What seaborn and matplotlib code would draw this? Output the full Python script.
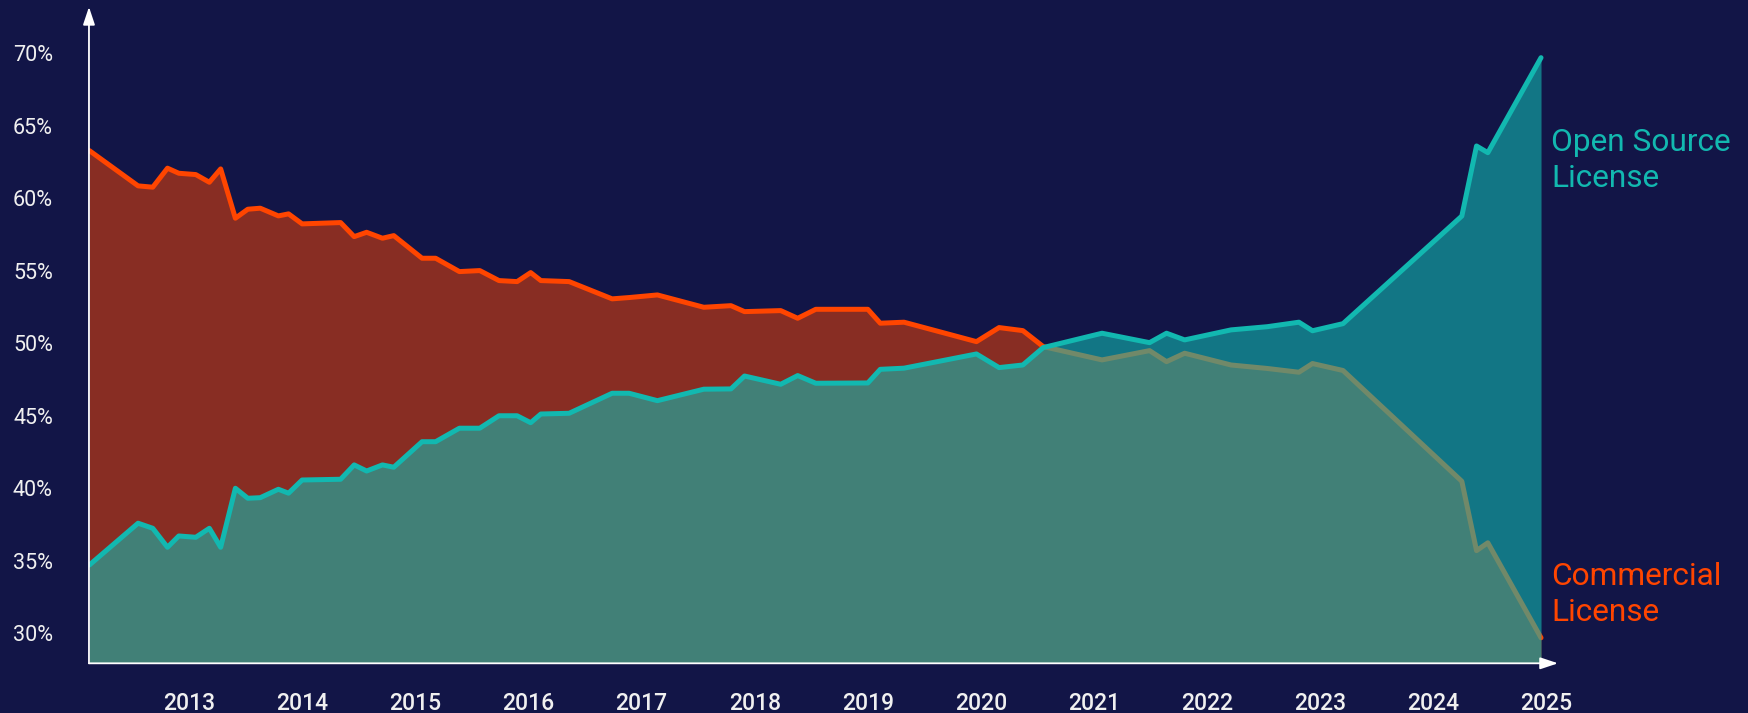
import numpy as np
import pandas as pd
import matplotlib
matplotlib.use("Agg")
import matplotlib.pyplot as plt
import seaborn as sns

# decimal years of each sample (shared by both series)
years = [2012.12, 2012.55, 2012.68, 2012.81, 2012.91, 2013.06, 2013.18, 2013.28,
         2013.41, 2013.52, 2013.63, 2013.79, 2013.88, 2014.00, 2014.34, 2014.46,
         2014.57, 2014.71, 2014.81, 2015.06, 2015.18, 2015.39, 2015.57, 2015.74,
         2015.90, 2016.02, 2016.11, 2016.36, 2016.74, 2016.89, 2017.14, 2017.55,
         2017.79, 2017.91, 2018.23, 2018.38, 2018.54, 2019.00, 2019.11, 2019.32,
         2019.96, 2020.16, 2020.37, 2020.55, 2021.07, 2021.49, 2021.64, 2021.80,
         2022.21, 2022.53, 2022.81, 2022.93, 2023.20, 2024.25, 2024.38, 2024.48,
         2024.95]
commercial = [63.28, 60.85, 60.76, 62.07, 61.72, 61.63, 61.10, 62.02,
              58.62, 59.24, 59.31, 58.78, 58.92, 58.23, 58.32, 57.35,
              57.65, 57.24, 57.42, 55.86, 55.86, 54.94, 55.01, 54.32,
              54.25, 54.87, 54.32, 54.25, 53.06, 53.15, 53.33, 52.48,
              52.59, 52.18, 52.25, 51.72, 52.34, 52.34, 51.38, 51.45,
              50.11, 51.08, 50.87, 49.77, 48.85, 49.49, 48.73, 49.31,
              48.50, 48.26, 48.00, 48.60, 48.12, 40.48, 35.70, 36.24,
              29.69]
open_source = [34.71, 37.59, 37.24, 35.93, 36.71, 36.62, 37.24, 35.93,
               40.00, 39.31, 39.35, 39.93, 39.66, 40.57, 40.62, 41.61,
               41.19, 41.61, 41.45, 43.21, 43.21, 44.14, 44.14, 45.00,
               45.00, 44.52, 45.12, 45.17, 46.55, 46.55, 46.04, 46.83,
               46.85, 47.74, 47.17, 47.77, 47.24, 47.26, 48.20, 48.28,
               49.26, 48.32, 48.50, 49.70, 50.69, 50.04, 50.69, 50.23,
               50.92, 51.14, 51.45, 50.86, 51.35, 58.77, 63.60, 63.14,
               69.69]
year_ticks = list(range(2013, 2026))
pct_ticks = list(range(30, 75, 5))

df = pd.DataFrame({"year": years, "commercial": commercial, "open_source": open_source})

bg = "#121547"
teal = "#12b8b0"
orange = "#ff4500"

sns.set_style("white", {"axes.facecolor": bg, "figure.facecolor": bg})
plt.rcParams["font.family"] = ["Roboto", "DejaVu Sans"]

fig = plt.figure(figsize=(17.48, 7.13), dpi=100)
ax = fig.add_axes([0.0509, 0.0697, 0.8404, 0.9206])
ymin, ymax = 27.93, 73.19
ax.set_xlim(2012.116, 2025.10)
ax.set_ylim(ymin, ymax)

# commercial first, open source on top (its translucent fill covers the red line)
ax.fill_between(df["year"], ymin, df["commercial"], color=orange, alpha=0.5, lw=0, zorder=1)
sns.lineplot(data=df, x="year", y="commercial", ax=ax, color=orange, lw=3.6,
             estimator=None, solid_capstyle="round", zorder=2)
ax.fill_between(df["year"], ymin, df["open_source"], color=teal, alpha=0.6, lw=0, zorder=3)
sns.lineplot(data=df, x="year", y="open_source", ax=ax, color=teal, lw=3.6,
             estimator=None, solid_capstyle="round", zorder=4)

for s in ax.spines.values():
    s.set_visible(False)
arrow = dict(arrowstyle="-|>,head_length=0.6,head_width=0.2", color="white",
             lw=1.3, mutation_scale=18, shrinkA=0, shrinkB=0)
ax.annotate("", xy=(0, 1), xytext=(0, 0), xycoords="axes fraction",
            textcoords="axes fraction", arrowprops=arrow, zorder=6)
ax.annotate("", xy=(1, 0), xytext=(0, 0), xycoords="axes fraction",
            textcoords="axes fraction", arrowprops=arrow, zorder=6)

ax.set_yticks(pct_ticks, labels=[f"{p}%" for p in pct_ticks])
ax.set_xticks(year_ticks, labels=[str(y) for y in year_ticks], fontweight="medium")
ax.tick_params(axis="y", length=0, pad=26, labelsize=15.5, labelcolor="#f0f0f0")
ax.tick_params(axis="x", length=0, pad=21, labelsize=16.5, labelcolor="#f0f0f0")
ax.set_xlabel("")
ax.set_ylabel("")
ax.grid(False)

ax.text(2025.04, 60.78, "Open Source\nLicense", color=teal, fontsize=22.8,
        va="baseline", ha="left", linespacing=1.3, clip_on=False)
ax.text(2025.04, 30.87, "Commercial\nLicense", color=orange, fontsize=22.8,
        va="baseline", ha="left", linespacing=1.3, clip_on=False)

fig.savefig("out.png", dpi=100, facecolor=bg)
